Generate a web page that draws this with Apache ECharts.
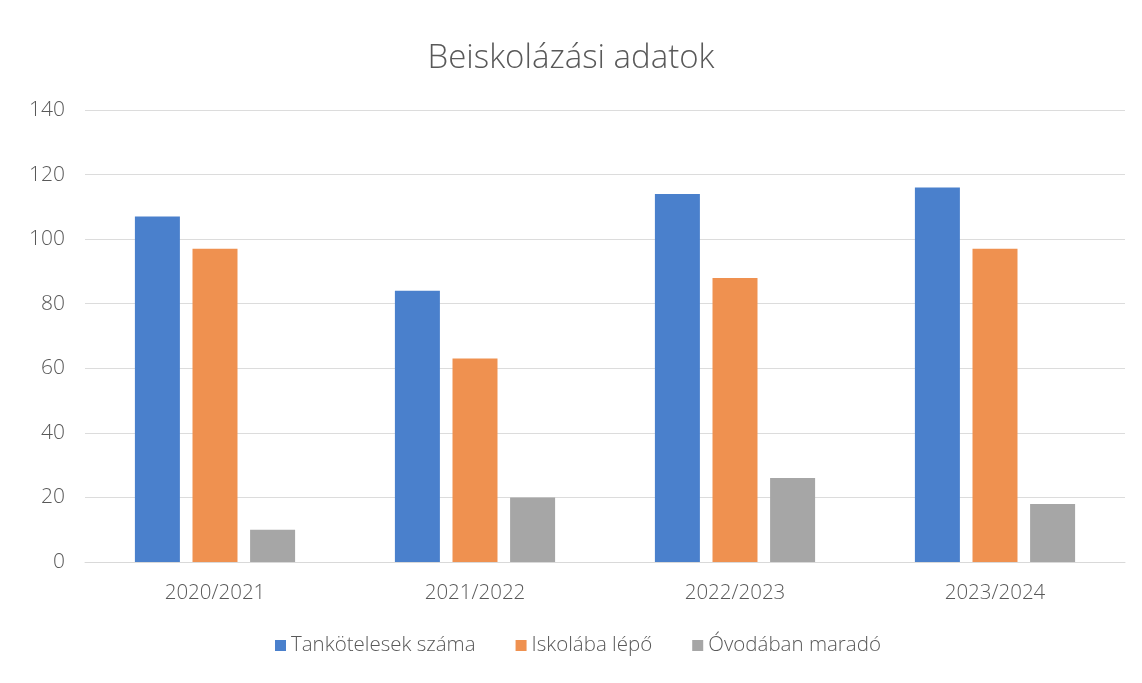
<!DOCTYPE html>
<html>
<head>
<meta charset="utf-8">
<title>Beiskolázási adatok</title>
<script src="https://cdn.jsdelivr.net/npm/echarts@6/dist/echarts.min.js"></script>
<style>
  html, body { margin: 0; padding: 0; background: #fff; }
  #chart { width: 1142px; height: 683px; }
</style>
</head>
<body>
<div id="chart"></div>
<script>
  // adatok
  const categories = ['2020/2021', '2021/2022', '2022/2023', '2023/2024'];
  const tankotelesek = [107, 84, 114, 116];
  const iskolaba = [97, 63, 88, 97];
  const ovodaban = [10, 20, 26, 18];
  const seriesNames = ['Tankötelesek száma', 'Iskolába lépő', 'Óvodában maradó'];
  const colors = ['#4a80cc', '#ef9150', '#a6a6a6'];

  const chart = echarts.init(document.getElementById('chart'));

  const font = '"Open Sans", "Noto Sans", sans-serif';

  const makeSeries = (name, data, color) => ({
    name: name,
    type: 'bar',
    data: data,
    barWidth: 45,
    barGap: '28%',
    itemStyle: { color: color }
  });

  chart.setOption({
    animation: false,
    color: colors,
    title: {
      text: 'Beiskolázási adatok',
      left: 'center',
      top: 37,
      textStyle: {
        fontFamily: font,
        fontSize: 33,
        fontWeight: 300,
        color: '#595959'
      }
    },
    grid: {
      left: 85,
      right: 17,
      top: 110,
      bottom: 121
    },
    legend: {
      bottom: 22,
      left: 270,
      itemWidth: 11,
      itemHeight: 11,
      itemGap: 40,
      icon: 'rect',
      textStyle: {
        fontFamily: font,
        fontSize: 20.5,
        fontWeight: 300,
        color: '#595959'
      },
      data: seriesNames
    },
    xAxis: {
      type: 'category',
      data: categories,
      axisTick: { show: false },
      axisLine: { lineStyle: { color: '#d9d9d9' } },
      axisLabel: {
        margin: 21,
        fontFamily: font,
        fontSize: 20.5,
        fontWeight: 300,
        color: '#595959'
      }
    },
    yAxis: {
      type: 'value',
      min: 0,
      max: 140,
      interval: 20,
      axisLine: { show: false },
      axisTick: { show: false },
      splitLine: { lineStyle: { color: '#dcdcdc' } },
      axisLabel: {
        margin: 20,
        fontFamily: font,
        fontSize: 21,
        fontWeight: 300,
        color: '#595959'
      }
    },
    series: [
      makeSeries(seriesNames[0], tankotelesek, colors[0]),
      makeSeries(seriesNames[1], iskolaba, colors[1]),
      makeSeries(seriesNames[2], ovodaban, colors[2])
    ]
  });
</script>
</body>
</html>
